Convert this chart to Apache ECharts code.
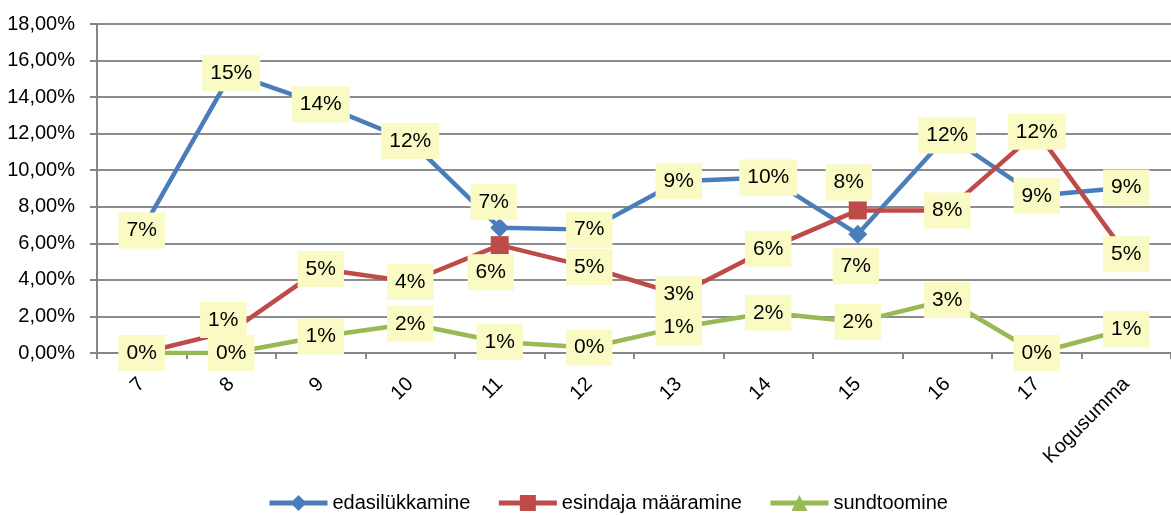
<!DOCTYPE html>
<html>
<head>
<meta charset="utf-8">
<script src="https://cdn.jsdelivr.net/npm/echarts@6/dist/echarts.min.js"></script>
<style>
  html, body { margin: 0; padding: 0; background: #fff; }
  #chart { width: 1171px; height: 515px; }
</style>
</head>
<body>
<div id="chart"></div>
<script>
// andmed (protsendid)
const categories = ['7', '8', '9', '10', '11', '12', '13', '14', '15', '16', '17', 'Kogusumma'];
const edasilykkamine = [6.7, 15.3, 13.6, 11.6, 6.85, 6.75, 9.4, 9.6, 6.5, 11.9, 8.6, 9.05];
const esindajaMaaramine = [0, 1.2, 4.6, 3.9, 5.9, 4.7, 3.2, 5.7, 7.8, 7.8, 12.1, 5.4];
const sundtoomine = [0, 0, 0.9, 1.6, 0.6, 0.3, 1.4, 2.2, 1.7, 2.9, 0, 1.3];
const seriesNames = ['edasilükkamine', 'esindaja määramine', 'sundtoomine'];
const yMin = 0, yMax = 18, yStep = 2;

// siltide nihked (mõned sildid pole punkti keskel)
const labelShift = [
  { 4: [-6, -26], 8: [-2, 32] },
  { 1: [-8, -11], 4: [-9, 27], 8: [-9, -28] },
  {}
];

const font = 'Arial, "Liberation Sans", sans-serif';

function withShift(values, shifts) {
  return values.map(function (v, i) {
    if (shifts[i]) {
      return { value: v, label: { offset: shifts[i] } };
    }
    return v;
  });
}

function makeSeries(name, values, color, symbol, size, shifts) {
  return {
    name: name,
    type: 'line',
    data: withShift(values, shifts),
    symbol: symbol,
    symbolSize: size,
    showAllSymbol: true,
    lineStyle: { color: color, width: 4.5 },
    itemStyle: { color: color },
    emphasis: { disabled: true },
    label: {
      show: true,
      position: 'inside',
      formatter: function (p) { return Math.round(p.value) + '%'; },
      color: '#000',
      fontFamily: font,
      fontSize: 21,
      lineHeight: 21,
      backgroundColor: '#fafac4',
      padding: [8, 8, 7, 8]
    }
  };
}

let myChart = echarts.init(document.getElementById('chart'));
let option = {
  animation: false,
  grid: { left: 97, top: 24, width: 1085, height: 329 },
  legend: {
    left: 262,
    top: 488,
    itemWidth: 58,
    itemHeight: 20,
    itemGap: 26,
    lineStyle: { width: 5 },
    textStyle: { fontFamily: font, fontSize: 20, color: '#000' },
    data: seriesNames
  },
  xAxis: {
    type: 'category',
    data: categories,
    boundaryGap: true,
    axisLine: { lineStyle: { color: '#868686', width: 2 } },
    axisTick: { show: true, length: 6, lineStyle: { color: '#868686', width: 2 } },
    axisLabel: {
      rotate: 45,
      margin: 28,
      interval: 0,
      color: '#000',
      fontFamily: font,
      fontSize: 20
    }
  },
  yAxis: {
    type: 'value',
    min: yMin,
    max: yMax,
    interval: yStep,
    axisLine: { show: true, lineStyle: { color: '#868686', width: 2 } },
    axisTick: { show: true, length: 7, lineStyle: { color: '#868686', width: 2 } },
    splitLine: { lineStyle: { color: '#8c8c8c', width: 2 } },
    axisLabel: {
      margin: 22,
      color: '#000',
      fontFamily: font,
      fontSize: 20,
      formatter: function (v) { return v.toFixed(2).replace('.', ',') + '%'; }
    }
  },
  series: [
    makeSeries(seriesNames[0], edasilykkamine, '#4a7ebb', 'diamond', 19, labelShift[0]),
    makeSeries(seriesNames[1], esindajaMaaramine, '#be4b48', 'rect', 18, labelShift[1]),
    makeSeries(seriesNames[2], sundtoomine, '#98b954', 'triangle', 18, labelShift[2])
  ]
};
myChart.setOption(option, true);
</script>
</body>
</html>
